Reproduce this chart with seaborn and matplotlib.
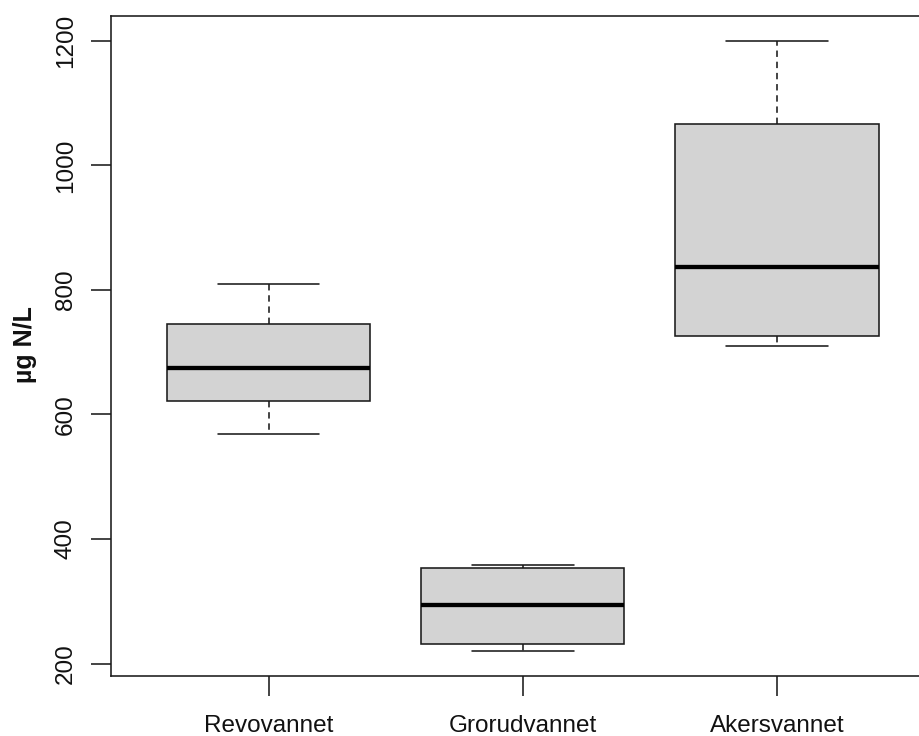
import numpy as np
import pandas as pd
import matplotlib
matplotlib.use("Agg")
import matplotlib.pyplot as plt
import seaborn as sns

# Data (min, Q1, median, Q3, max per lake)
categories = ["Revovannet", "Grorudvannet", "Akersvannet"]
revovannet = [569, 621, 674, 746, 810]
grorudvannet = [220, 231, 294, 354, 358]
akersvannet = [710, 726, 836, 1066, 1200]
yticks = [200, 400, 600, 800, 1000, 1200]
ylabel = "µg N/L"

df = pd.DataFrame({
    "lake": np.repeat(categories, 5),
    "value": revovannet + grorudvannet + akersvannet,
})

sns.set_style("ticks")
plt.rcParams["font.family"] = ["Liberation Sans", "DejaVu Sans"]

W, H = 920, 736
fig = plt.figure(figsize=(W / 100, H / 100), dpi=100)
left, right, top, bottom = 111, 934.5, 16.4, 675.5
ax = fig.add_axes([left / W, 1 - bottom / H, (right - left) / W, (bottom - top) / H])

lw = 1.15
sns.boxplot(
    data=df, x="lake", y="value", order=categories, ax=ax,
    color="#d3d3d3", linecolor="black", linewidth=lw, width=0.8,
    whis=(0, 100), saturation=1,
    boxprops=dict(facecolor="#d3d3d3", edgecolor="#1a1a1a", linewidth=lw),
    medianprops=dict(color="black", linewidth=3.1),
    whiskerprops=dict(color="#1a1a1a", linewidth=lw, linestyle=(0, (4.0, 3.0))),
    capprops=dict(color="#1a1a1a", linewidth=lw),
)

ax.set_xlim(-0.62, 2.62)
ax.set_ylim(180.8, 1239.2)
ax.set_yticks(yticks)
ax.set_yticklabels([str(v) for v in yticks], rotation=90, va="center")
ax.set_xlabel("")
ax.set_ylabel("")
ax.tick_params(axis="both", length=14.5, width=lw, color="#1a1a1a",
               labelsize=17.5, labelcolor="#111111")
ax.tick_params(axis="y", pad=10)
ax.tick_params(axis="x", pad=14)
for s in ax.spines.values():
    s.set_visible(True)
    s.set_color("#1a1a1a")
    s.set_linewidth(lw)

fig.text(25 / W, 1 - 345 / H, ylabel, rotation=90, ha="center", va="center",
         fontsize=18, fontweight="bold", color="#111111")

fig.savefig("out.png", dpi=100)
